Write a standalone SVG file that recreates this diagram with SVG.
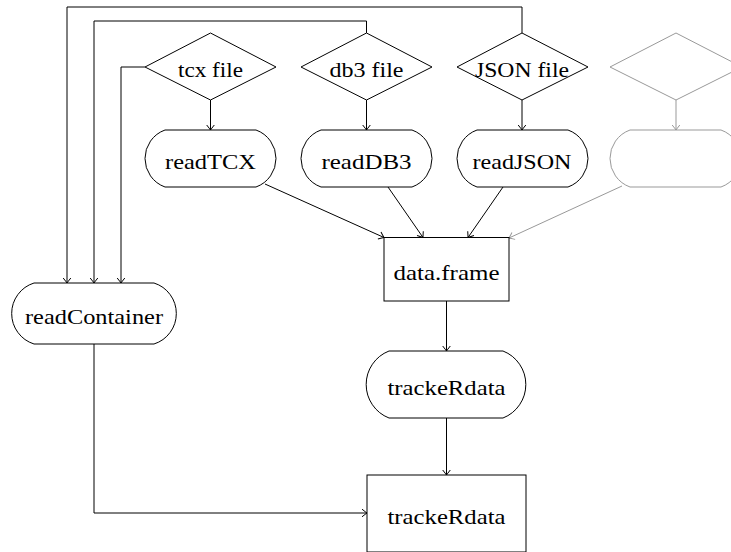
<svg xmlns="http://www.w3.org/2000/svg" width="731" height="552" viewBox="0 0 731 552">
<defs>
<style>
.n{fill:#fff;stroke:#000;stroke-width:1}
.g{fill:#fff;stroke:#999;stroke-width:1}
.t{font-family:"Liberation Serif","DejaVu Serif",serif;font-size:21px;fill:#000;text-anchor:middle}
.c{fill:none;stroke:#000;stroke-width:1}
.cg{fill:none;stroke:#999;stroke-width:1}
</style>
<marker id="a" viewBox="-6 -5 7 10" refX="0" refY="0" markerWidth="7" markerHeight="10" markerUnits="userSpaceOnUse" orient="auto" overflow="visible">
<path d="M-5,-3.8 Q-1.2,-0.8 0,0 Q-1.2,0.8 -5,3.8" fill="none" stroke="#000" stroke-width="1"/>
</marker>
<marker id="ag" viewBox="-6 -5 7 10" refX="0" refY="0" markerWidth="7" markerHeight="10" markerUnits="userSpaceOnUse" orient="auto" overflow="visible">
<path d="M-5,-3.8 Q-1.2,-0.8 0,0 Q-1.2,0.8 -5,3.8" fill="none" stroke="#999" stroke-width="1"/>
</marker>
</defs>
<rect width="731" height="552" fill="#fff"/>
<g id="connectors">
<path class="c" d="M522,33 V7 H67 V283" marker-end="url(#a)"/>
<path class="c" d="M366.5,33 V21 H94 V283" marker-end="url(#a)"/>
<path class="c" d="M145,67 H121 V283" marker-end="url(#a)"/>
<path class="c" d="M210.5,100 V130" marker-end="url(#a)"/>
<path class="c" d="M366.5,100 V130" marker-end="url(#a)"/>
<path class="c" d="M522,100 V130" marker-end="url(#a)"/>
<path class="cg" d="M676,100 V130" marker-end="url(#ag)"/>
<path class="c" d="M265,184 L384,237.5" marker-end="url(#a)"/>
<path class="c" d="M388,187 L423,237.5" marker-end="url(#a)"/>
<path class="c" d="M503,187 L468,237.5" marker-end="url(#a)"/>
<path class="cg" d="M622,186 L509,238" marker-end="url(#ag)"/>
<path class="c" d="M446.5,301 V351" marker-end="url(#a)"/>
<path class="c" d="M446.5,418 V475" marker-end="url(#a)"/>
<path class="c" d="M94,344 V513 H367" marker-end="url(#a)"/>
</g>
<g id="tcx-file">
<polygon class="n" points="145,67 210.5,33 276,67 210.5,100"/>
<text class="t" x="210.5" y="77" textLength="65" lengthAdjust="spacingAndGlyphs">tcx file</text>
</g>
<g id="db3-file">
<polygon class="n" points="301,67 366.5,33 432,67 366.5,100"/>
<text class="t" x="366.5" y="77" textLength="74" lengthAdjust="spacingAndGlyphs">db3 file</text>
</g>
<g id="json-file">
<polygon class="n" points="457,67 522,33 588,67 522,100"/>
<text class="t" x="522" y="77" textLength="94" lengthAdjust="spacingAndGlyphs">JSON file</text>
</g>
<g id="extra-file">
<polygon class="g" points="610,67 676,33 742,67 676,100"/>
</g>
<g id="readTCX">
<path class="n" d="M165,130 H256 A30.3,30.3 0 0 1 256,187 H165 A30.3,30.3 0 0 1 165,130 Z"/>
<text class="t" x="210.5" y="169" textLength="91" lengthAdjust="spacingAndGlyphs">readTCX</text>
</g>
<g id="readDB3">
<path class="n" d="M321,130 H412 A30.3,30.3 0 0 1 412,187 H321 A30.3,30.3 0 0 1 321,130 Z"/>
<text class="t" x="366.5" y="169" textLength="90" lengthAdjust="spacingAndGlyphs">readDB3</text>
</g>
<g id="readJSON">
<path class="n" d="M477,130 H568 A30.3,30.3 0 0 1 568,187 H477 A30.3,30.3 0 0 1 477,130 Z"/>
<text class="t" x="522" y="169" textLength="99" lengthAdjust="spacingAndGlyphs">readJSON</text>
</g>
<g id="extra-reader">
<path class="g" d="M630,130 H721 A30.3,30.3 0 0 1 721,187 H630 A30.3,30.3 0 0 1 630,130 Z"/>
</g>
<g id="data-frame">
<rect class="n" x="384" y="237.5" width="125" height="63.5"/>
<text class="t" x="446.5" y="280" textLength="106" lengthAdjust="spacingAndGlyphs">data.frame</text>
</g>
<g id="readContainer">
<path class="n" d="M34,283 H154 A32,32 0 0 1 154,344 H34 A32,32 0 0 1 34,283 Z"/>
<text class="t" x="94" y="324" textLength="138" lengthAdjust="spacingAndGlyphs">readContainer</text>
</g>
<g id="trackeRdata-process">
<path class="n" d="M389,351 H503 A36,36 0 0 1 503,418 H389 A36,36 0 0 1 389,351 Z"/>
<text class="t" x="446.5" y="395" textLength="118" lengthAdjust="spacingAndGlyphs">trackeRdata</text>
</g>
<g id="trackeRdata-object">
<rect class="n" x="367" y="475" width="159" height="77"/>
<text class="t" x="446.5" y="524" textLength="118" lengthAdjust="spacingAndGlyphs">trackeRdata</text>
</g>
</svg>
